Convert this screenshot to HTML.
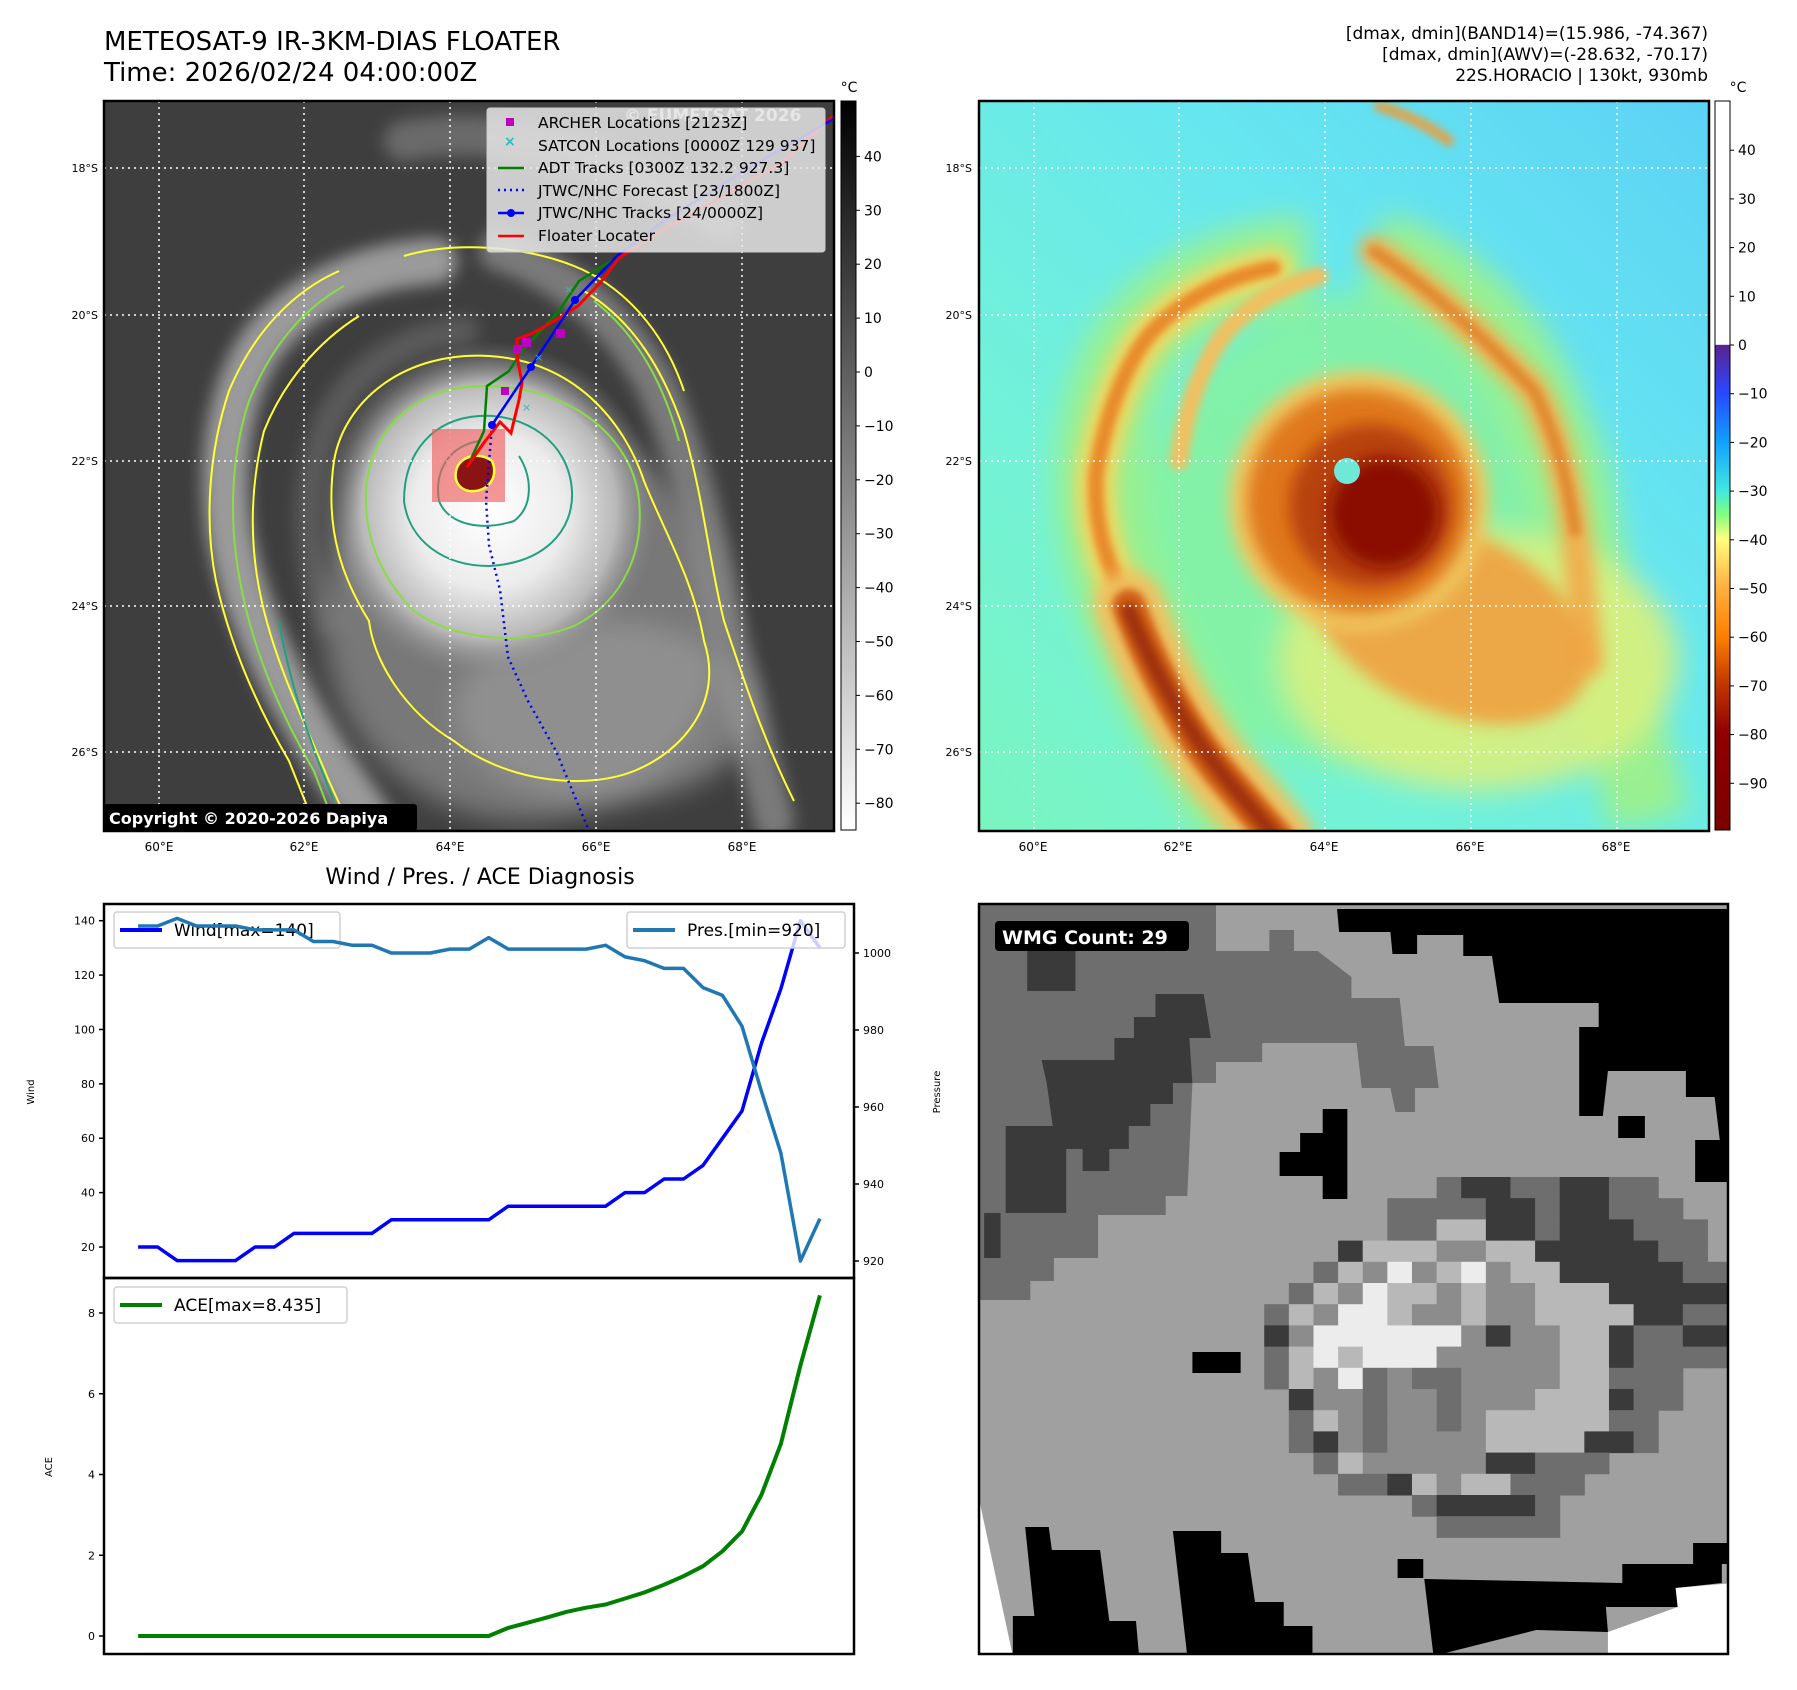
<!DOCTYPE html>
<html><head><meta charset="utf-8">
<style>
html,body{margin:0;padding:0;background:#fff;}
#root{position:relative;width:1797px;height:1690px;overflow:hidden;background:#fff;}
svg text{font-family:"DejaVu Sans","Liberation Sans",sans-serif;}
</style></head>
<body>
<div id="root">
<svg id="fig" width="1797" height="1690" viewBox="0 0 1797 1690" xmlns="http://www.w3.org/2000/svg">
<defs>
  <filter id="blur8" filterUnits="userSpaceOnUse" x="-300" y="-300" width="1400" height="1400"><feGaussianBlur stdDeviation="8"/></filter>
  <filter id="blur4" filterUnits="userSpaceOnUse" x="-300" y="-300" width="1400" height="1400"><feGaussianBlur stdDeviation="4"/></filter>
  <filter id="blur14" filterUnits="userSpaceOnUse" x="-300" y="-300" width="1400" height="1400"><feGaussianBlur stdDeviation="14"/></filter>
  <clipPath id="clipL"><rect x="0" y="0" width="730" height="730"/></clipPath>
  <clipPath id="clipR"><rect x="0" y="0" width="730" height="730"/></clipPath>
  <clipPath id="clipW"><rect x="0" y="0" width="749" height="750"/></clipPath>
  <radialGradient id="cdoL" cx="0.5" cy="0.5" r="0.5">
    <stop offset="0" stop-color="#ffffff"/><stop offset="0.45" stop-color="#ececec"/>
    <stop offset="0.75" stop-color="#b8b8b8"/><stop offset="1" stop-color="#808080" stop-opacity="0"/>
  </radialGradient>
  <linearGradient id="bgR" x1="1" y1="0" x2="0" y2="1">
    <stop offset="0" stop-color="#5cd2f5"/><stop offset="0.35" stop-color="#66e6f0"/>
    <stop offset="0.7" stop-color="#72f2d8"/><stop offset="1" stop-color="#7af5c0"/>
  </linearGradient>
  <linearGradient id="cbL" x1="0" y1="0" x2="0" y2="1">
    <stop offset="0" stop-color="#000"/><stop offset="1" stop-color="#fff"/>
  </linearGradient>
  <linearGradient id="cbR" x1="0" y1="0" x2="0" y2="1">
    <stop offset="0" stop-color="#fff"/><stop offset="0.334" stop-color="#fff"/>
    <stop offset="0.335" stop-color="#5a2390"/><stop offset="0.40" stop-color="#2848ff"/>
    <stop offset="0.467" stop-color="#10a0ff"/><stop offset="0.534" stop-color="#40e8e0"/>
    <stop offset="0.567" stop-color="#80ff80"/><stop offset="0.60" stop-color="#ffff80"/>
    <stop offset="0.667" stop-color="#ffb040"/><stop offset="0.734" stop-color="#ff8000"/>
    <stop offset="0.80" stop-color="#c03800"/><stop offset="0.867" stop-color="#900000"/>
    <stop offset="1" stop-color="#7a0000"/>
  </linearGradient>
</defs>

<!-- Titles -->
<text x="104" y="50" font-size="26">METEOSAT-9 IR-3KM-DIAS FLOATER</text>
<text x="104" y="81" font-size="26">Time: 2026/02/24 04:00:00Z</text>
<g font-size="17" text-anchor="end">
  <text x="1708" y="39">[dmax, dmin](BAND14)=(15.986, -74.367)</text>
  <text x="1708" y="60">[dmax, dmin](AWV)=(-28.632, -70.17)</text>
  <text x="1708" y="81">22S.HORACIO | 130kt, 930mb</text>
</g>

<!-- LEFT IR MAP -->
<g transform="translate(104,101)">
 <g clip-path="url(#clipL)">
  <rect width="730" height="730" fill="#3e3e3e"/>
  <g filter="url(#blur8)" fill="none" stroke-linecap="round">
    <path d="M330,160 C260,165 200,190 160,240 C125,290 115,360 125,430 C140,510 180,590 225,660 L280,740" stroke="#9a9a9a" stroke-width="46"/>
    <path d="M360,230 C300,235 250,270 225,320 C200,380 200,450 225,520" stroke="#5a5a5a" stroke-width="30"/>
    <path d="M395,150 C460,170 520,220 555,290 C585,360 600,420 615,500 C630,570 650,640 670,720" stroke="#7a7a7a" stroke-width="40"/>
    <path d="M300,40 C400,20 520,60 620,120" stroke="#6a6a6a" stroke-width="40"/>
  </g>
  <ellipse cx="420" cy="520" rx="200" ry="200" fill="#8c8c8c" opacity="0.75" filter="url(#blur14)"/>
  <ellipse cx="500" cy="610" rx="150" ry="90" fill="#9a9a9a" opacity="0.7" filter="url(#blur14)"/>
  <circle cx="385" cy="410" r="170" fill="url(#cdoL)"/>
  <!-- contours -->
  <g fill="none" stroke-width="2">
    <path d="M235,170 C190,190 150,230 125,290 C105,350 100,420 112,480 C125,540 150,600 185,660 L215,735" stroke="#ffff33"/>
    <path d="M255,215 C215,240 180,280 160,330 C145,390 145,450 160,510 C175,570 200,620 225,680 L250,735" stroke="#ffff33"/>
    <path d="M240,185 C195,210 165,250 145,300 C125,360 125,430 138,490 C150,550 175,610 210,670 L235,735" stroke="#88dd44"/>
    <path d="M175,520 C185,580 205,640 230,700" stroke="#20a080"/>
    <path d="M300,155 C350,140 420,145 470,165 C520,185 560,230 580,290" stroke="#ffff33"/>
    <path d="M480,190 C530,220 560,270 580,330 C600,400 605,460 620,520 C640,580 660,640 690,700" stroke="#ffff33"/>
    <path d="M490,200 C535,235 560,285 575,340" stroke="#88dd44"/>
    <path d="M385,255 C300,250 240,300 230,360 C220,430 240,480 265,520 C270,560 300,610 350,640 C400,680 480,690 530,670 C580,650 620,600 600,540 C590,480 560,430 540,380 C520,320 470,260 385,255 Z" stroke="#ffff33"/>
    <path d="M380,285 C310,285 265,330 262,390 C260,440 280,480 310,510 C350,540 420,545 470,525 C520,500 540,450 535,400 C530,340 470,285 380,285 Z" stroke="#88dd44"/>
    <path d="M375,315 C330,318 300,350 300,400 C305,440 340,465 385,465 C440,462 470,430 468,390 C465,340 420,312 375,315 Z" stroke="#20a080"/>
    <path d="M375,340 C345,345 330,370 335,400 C345,425 380,430 410,420 C430,405 428,375 415,355" stroke="#20a080"/>
  </g>
  <!-- grid -->
  <g stroke="#fff" stroke-width="1.5" stroke-dasharray="2,4">
    <line x1="55" y1="0" x2="55" y2="730"/><line x1="200" y1="0" x2="200" y2="730"/><line x1="346" y1="0" x2="346" y2="730"/><line x1="492" y1="0" x2="492" y2="730"/><line x1="638" y1="0" x2="638" y2="730"/>
    <line x1="0" y1="67" x2="730" y2="67"/><line x1="0" y1="214" x2="730" y2="214"/><line x1="0" y1="360" x2="730" y2="360"/><line x1="0" y1="505" x2="730" y2="505"/><line x1="0" y1="651" x2="730" y2="651"/>
  </g>
  <rect x="328" y="328" width="73" height="73" fill="#f06060" opacity="0.65"/>
  <path d="M352,370 C355,355 375,350 388,360 C395,375 385,392 365,390 C355,388 350,380 352,370 Z" fill="#8a1414" stroke="#ffff33" stroke-width="2.5"/>
  <!-- tracks -->
  <polyline points="388,324 382,400 385,444 396,489 404,556 424,600 452,650 485,730" fill="none" stroke="#0000ff" stroke-width="2.5" stroke-dasharray="2,4"/>
  <polyline points="366,360 380,330 383,285 405,270 418,250 455,210 475,180 515,155 560,130" fill="none" stroke="#008000" stroke-width="2.5"/>
  <polyline points="363,366 379,343 396,321 407,332 415,299 418,282 413,255 413,238 429,232 457,216 474,205 496,182 515,157 560,128 620,95 680,60 729,15" fill="none" stroke="#ff0000" stroke-width="3"/>
  <polyline points="388,324 427,266 471,199 513,155 560,120 640,70 729,18" fill="none" stroke="#0000ff" stroke-width="2.5"/>
  <g fill="#0000ff"><circle cx="388" cy="324" r="4"/><circle cx="427" cy="266" r="4"/><circle cx="471" cy="199" r="4"/></g>
  <g fill="#c000c0"><rect x="409" y="244" width="9" height="9"/><rect x="418" y="237" width="9" height="9"/><rect x="452" y="228" width="9" height="9"/><rect x="397" y="286" width="8" height="8"/></g>
  <g fill="#20c0c0" font-size="11"><text x="460" y="192">×</text><text x="418" y="310">×</text><text x="430" y="260">×</text></g>
  <text x="520" y="20" font-size="17" font-weight="bold" fill="#e0e0e0">© EUMETSAT 2026</text>
  <!-- legend -->
  <g>
    <rect x="383" y="7" width="338" height="144" rx="3" fill="#e6e6e6" fill-opacity="0.85" stroke="#cccccc"/>
    <rect x="402" y="17" width="8" height="8" fill="#c000c0"/>
    <text x="400" y="45" font-size="14" fill="#20c0c0" font-weight="bold">×</text>
    <line x1="394" y1="67" x2="420" y2="67" stroke="#008000" stroke-width="2.5"/>
    <line x1="394" y1="89" x2="420" y2="89" stroke="#0000ff" stroke-width="2.5" stroke-dasharray="2,4"/>
    <line x1="394" y1="112" x2="420" y2="112" stroke="#0000ff" stroke-width="2.5"/><circle cx="407" cy="112" r="4" fill="#0000ff"/>
    <line x1="394" y1="135" x2="420" y2="135" stroke="#ff0000" stroke-width="2.5"/>
    <g font-size="15.5" fill="#000">
      <text x="434" y="27">ARCHER Locations [2123Z]</text>
      <text x="434" y="50">SATCON Locations [0000Z 129 937]</text>
      <text x="434" y="72">ADT Tracks [0300Z 132.2 927.3]</text>
      <text x="434" y="95">JTWC/NHC Forecast [23/1800Z]</text>
      <text x="434" y="117">JTWC/NHC Tracks [24/0000Z]</text>
      <text x="434" y="140">Floater Locater</text>
    </g>
  </g>
  <rect x="0" y="703" width="313" height="27" rx="3" fill="#000"/>
  <text x="5" y="723" font-size="16" font-weight="bold" fill="#fff">Copyright © 2020-2026 Dapiya</text>
 </g>
 <rect width="730" height="730" fill="none" stroke="#000" stroke-width="2.5"/>
</g>

<!-- left colorbar -->
<g>
  <rect x="841" y="101" width="15" height="729" fill="url(#cbL)" stroke="#000" stroke-width="1"/>
  <text x="849" y="92" font-size="14" text-anchor="middle">°C</text>
  <g font-size="14" id="cbLticks"></g>
</g>

<!-- RIGHT AWV MAP -->
<g transform="translate(979,101)">
 <g clip-path="url(#clipR)">
  <rect width="730" height="730" fill="url(#bgR)"/>
  <g filter="url(#blur14)">
    <circle cx="400" cy="430" r="240" fill="#88f29a" opacity="0.8"/>
    <path d="M330,160 C260,165 200,190 160,240 C125,290 115,360 125,430 C140,510 180,590 225,660 L280,740" fill="none" stroke="#9af090" stroke-width="90"/>
    <path d="M395,150 C460,170 520,220 555,290 C585,360 600,420 615,500 C630,570 650,640 670,720" fill="none" stroke="#9af090" stroke-width="80"/>
    <ellipse cx="500" cy="560" rx="200" ry="130" fill="#d8f080" opacity="0.9"/>
  </g>
  <g fill="none" stroke-linecap="round">
    <path d="M294,167 C250,175 200,200 170,234 C145,265 125,320 117,374 C115,420 125,460 150,505" stroke="#f0d860" stroke-width="40" filter="url(#blur8)"/>
    <path d="M294,167 C250,175 200,200 170,234 C145,265 125,320 117,374 C115,420 125,460 150,505" stroke="#e88a2a" stroke-width="16" filter="url(#blur4)"/>
    <path d="M150,505 C170,560 200,620 240,670 L300,740" stroke="#f0c060" stroke-width="70" filter="url(#blur8)"/>
    <path d="M150,505 C170,560 200,620 240,670 L300,740" stroke="#d06018" stroke-width="34" filter="url(#blur4)"/>
    <path d="M150,510 C175,570 205,625 245,675 L300,740" stroke="#a03008" stroke-width="16" filter="url(#blur4)"/>
    <path d="M340,175 C300,185 260,210 240,240 C215,280 205,320 200,360" stroke="#f0c060" stroke-width="18" filter="url(#blur4)"/>
    <path d="M395,150 C454,189 513,245 555,290 C580,340 590,390 596,430 C600,470 605,520 610,560" stroke="#f0b050" stroke-width="30" filter="url(#blur8)"/>
    <path d="M395,150 C454,189 513,245 555,290 C580,340 590,390 596,430" stroke="#e08a30" stroke-width="12" filter="url(#blur4)"/>
    <path d="M400,5 C430,15 450,25 470,40" stroke="#e8a040" stroke-width="10" filter="url(#blur4)"/>
  </g>
  <ellipse cx="470" cy="520" rx="150" ry="90" transform="rotate(25 470 520)" fill="#f0a040" opacity="0.9" filter="url(#blur8)"/>
  <circle cx="380" cy="400" r="130" fill="#f0c860" filter="url(#blur8)"/>
  <circle cx="380" cy="400" r="112" fill="#e0781e" filter="url(#blur8)"/>
  <circle cx="392" cy="405" r="82" fill="#b8420c" filter="url(#blur8)"/>
  <circle cx="405" cy="412" r="55" fill="#8a0a00" filter="url(#blur8)"/>
  <circle cx="368" cy="370" r="13" fill="#70e8d8"/>
  <g stroke="#fff" stroke-width="1.5" stroke-dasharray="2,4">
    <line x1="55" y1="0" x2="55" y2="730"/><line x1="200" y1="0" x2="200" y2="730"/><line x1="346" y1="0" x2="346" y2="730"/><line x1="492" y1="0" x2="492" y2="730"/><line x1="638" y1="0" x2="638" y2="730"/>
    <line x1="0" y1="67" x2="730" y2="67"/><line x1="0" y1="214" x2="730" y2="214"/><line x1="0" y1="360" x2="730" y2="360"/><line x1="0" y1="505" x2="730" y2="505"/><line x1="0" y1="651" x2="730" y2="651"/>
  </g>
 </g>
 <rect width="730" height="730" fill="none" stroke="#000" stroke-width="2.5"/>
</g>

<!-- right colorbar -->
<g>
  <rect x="1715" y="101" width="15" height="729" fill="url(#cbR)" stroke="#000" stroke-width="1"/>
  <text x="1738" y="92" font-size="14" text-anchor="middle">°C</text>
  <g font-size="14" id="cbRticks"></g>
</g>

<!-- map lat/lon labels -->
<g font-size="11" text-anchor="end" id="latlabels"></g>
<g font-size="12" text-anchor="middle" id="lonlabels"></g>

<!-- WMG PANEL -->
<g transform="translate(979,904)">
 <g clip-path="url(#clipW)">
  <g transform="scale(1.026,1)">
  <rect width="730" height="752" fill="#a0a0a0"/>
  <polygon fill="#6e6e6e" points="0,0 231,0 231,47 283,47 283,26 307,26 307,47 330,47 363,73 363,94 410,94 415,142 443,142 448,184 425,184 425,208 406,208 401,184 373,184 368,139 276,139 276,158 231,158 231,179 208,179 203,292 182,292 182,311 116,311 116,354 73,354 73,377 50,377 50,396 0,396"/>
  <g fill="#3a3a3a">
    <rect x="47" y="47" width="47" height="40"/>
    <polygon points="61,156 132,156 132,134 151,134 151,113 172,113 172,90 219,90 226,134 205,134 208,179 189,179 189,200 167,200 167,222 146,222 146,245 127,245 127,267 101,267 101,245 75,245 66,179"/>
    <rect x="26" y="222" width="59" height="87"/>
    <rect x="5" y="309" width="16" height="45"/>
  </g>
  <polygon fill="#000" points="349,5 736,5 736,278 698,278 698,236 722,236 717,193 689,193 689,167 613,167 608,212 585,212 585,123 604,123 604,99 507,99 500,52 472,52 472,31 427,31 427,50 403,50 401,28 351,28"/>
  <g fill="#000">
    <rect x="335" y="205" width="24" height="90"/><rect x="293" y="248" width="50" height="24"/><rect x="313" y="229" width="30" height="19"/>
    <rect x="208" y="448" width="47" height="21"/><rect x="623" y="212" width="26" height="22"/><rect x="408" y="655" width="25" height="19"/>
    <polygon points="45,623 68,623 71,646 118,646 127,717 153,717 156,752 33,752 33,712 54,712"/>
    <polygon points="189,627 236,627 236,649 262,649 269,698 297,698 297,722 325,722 325,752 203,752"/>
    <polygon points="434,675 627,679 627,660 696,660 696,639 736,639 736,660 724,660 724,679 679,684 681,703 611,703 613,728 543,726 443,752"/>
  </g>
  <polygon fill="#fff" points="0,595 33,752 0,752"/>
  <polygon fill="#fff" points="613,728 681,703 679,684 736,679 736,752 613,752"/>
  <g id="wmgcells"></g>
  </g>
  <rect x="16" y="17" width="194" height="30" rx="4" fill="#000"/>
  <text x="23" y="40" font-size="19" font-weight="bold" fill="#fff">WMG Count: 29</text>
 </g>
 <rect width="749" height="750" fill="none" stroke="#000" stroke-width="2.5"/>
</g>

<!-- DIAGNOSIS CHARTS -->
<text x="480" y="884" font-size="22" text-anchor="middle">Wind / Pres. / ACE Diagnosis</text>
<g id="charts"></g>
</svg>
</div>

<script>
// ---------- chart data ----------
const windValues = [20,20,15,15,15,15,20,20,25,25,25,25,25,30,30,30,30,30,30,35,35,35,35,35,35,40,40,45,45,50,60,70,95,115,140,130];
const presValues = [1007,1007,1009,1007,1007,1007,1006,1006,1006,1003,1003,1002,1002,1000,1000,1000,1001,1001,1004,1001,1001,1001,1001,1001,1002,999,998,996,996,991,989,981,964,948,920,931];
const aceValues  = [0,0,0,0,0,0,0,0,0,0,0,0,0,0,0,0,0,0,0,0.2,0.33,0.46,0.6,0.7,0.78,0.93,1.08,1.27,1.48,1.73,2.1,2.59,3.5,4.76,6.7,8.435];
const windTicks = [20,40,60,80,100,120,140];
const presTicks = [920,940,960,980,1000];
const aceTicks  = [0,2,4,6,8];
const irCbTicks = [40,30,20,10,0,-10,-20,-30,-40,-50,-60,-70,-80];
const awvCbTicks = [40,30,20,10,0,-10,-20,-30,-40,-50,-60,-70,-80,-90];
const latTicks = ["18°S","20°S","22°S","24°S","26°S"];
const lonTicks = ["60°E","62°E","64°E","66°E","68°E"];

const NS = "http://www.w3.org/2000/svg";
function mk(tag, attrs, parent){ const e=document.createElementNS(NS,tag); for(const k in attrs) e.setAttribute(k,attrs[k]); parent.appendChild(e); return e; }

// axis functions
const X0=104, X1=854;
const n = windValues.length;
const xs = i => X0 + (i + 0.05*(n-1)) * (X1-X0)/((n-1)*1.1);
const yWind = v => 1247 - (v-20)*(1247-920.7)/120;
const yPres = v => 1261 - (v-920)*(1261-953)/80;
const yAce  = v => 1636 - v*(1636-1313)/8;

const charts = document.getElementById('charts');

const f1 = mk('rect',{x:X0,y:904,width:X1-X0,height:374,fill:'none',stroke:'#000','stroke-width':2.5},charts);


const f2 = mk('rect',{x:X0,y:1278,width:X1-X0,height:376,fill:'none',stroke:'#000','stroke-width':2.5},charts);



windTicks.forEach(t=>{ const y=yWind(t);
  mk('line',{x1:X0-5,y1:y,x2:X0,y2:y,stroke:'#000','stroke-width':1.5},charts);
  const tx=mk('text',{x:X0-9,y:y+4,'font-size':11,'text-anchor':'end'},charts); tx.textContent=t;
  
  
});
presTicks.forEach(t=>{ const y=yPres(t);
  mk('line',{x1:X1,y1:y,x2:X1+5,y2:y,stroke:'#000','stroke-width':1.5},charts);
  const tx=mk('text',{x:X1+9,y:y+4,'font-size':11},charts); tx.textContent=t;
  
  
});
aceTicks.forEach(t=>{ const y=yAce(t);
  mk('line',{x1:X0-5,y1:y,x2:X0,y2:y,stroke:'#000','stroke-width':1.5},charts);
  const tx=mk('text',{x:X0-9,y:y+4,'font-size':11,'text-anchor':'end'},charts); tx.textContent=t;
  
  
});
function vlabel(txt,x,y,name){ const t=mk('text',{x:x,y:y,'font-size':10,'text-anchor':'middle',transform:`rotate(-90 ${x} ${y})`},charts); t.textContent=txt;
  
   }
vlabel('Wind',34,1092,'wind-axis-title');
vlabel('Pressure',940,1092,'pressure-axis-title');
vlabel('ACE',52,1467,'ace-axis-title');

function line(vals, yf, color, w, name){
  const pts = vals.map((v,i)=>xs(i).toFixed(1)+','+yf(v).toFixed(1)).join(' ');
  const p = mk('polyline',{points:pts,fill:'none',stroke:color,'stroke-width':w,'stroke-linejoin':'round'},charts);
  
  
}
line(windValues, yWind, '#0000ff', 3.5, 'wind-line');

function legend(x,y,w,label,color,name){
  const g=mk('g',{},charts);
  
  
  mk('rect',{x:x,y:y,width:w,height:36,rx:3,fill:'#fff','fill-opacity':0.8,stroke:'#d0d0d0','stroke-width':1.5},g);
  mk('line',{x1:x+6,y1:y+18,x2:x+48,y2:y+18,stroke:color,'stroke-width':4},g);
  const t=mk('text',{x:x+60,y:y+24,'font-size':17},g); t.textContent=label;
}
legend(114,912,226,'Wind[max=140]','#0000ff','wind-legend');
line(presValues, yPres, '#1f77b4', 3.5, 'pressure-line');
legend(627,912,218,'Pres.[min=920]','#1f77b4','pressure-legend');
line(aceValues, yAce, '#008000', 4, 'ace-line');
legend(114,1287,233,'ACE[max=8.435]','#008000','ace-legend');

const cbL=document.getElementById('cbLticks');
irCbTicks.forEach(t=>{ const y=372-t*5.39;
  mk('line',{x1:856,y1:y,x2:860,y2:y,stroke:'#000'},cbL);
  const tx=mk('text',{x:864,y:y+5},cbL); tx.textContent=(t<0?'\u2212'+(-t):t);
  
  
});
const cbR=document.getElementById('cbRticks');
awvCbTicks.forEach(t=>{ const y=345-t*4.87;
  mk('line',{x1:1730,y1:y,x2:1734,y2:y,stroke:'#000'},cbR);
  const tx=mk('text',{x:1738,y:y+5},cbR); tx.textContent=(t<0?'\u2212'+(-t):t);
  
  
});

const latG=document.getElementById('latlabels'), lonG=document.getElementById('lonlabels');
const latY=[168,315,461,606,752], lonX=[159,304,450,596,742];
latTicks.forEach((s,i)=>{ [98,972].forEach(x=>{
  const t=mk('text',{x:x,y:latY[i]+4},latG); t.textContent=s;
  
   }); });
lonTicks.forEach((s,i)=>{ [0,874].forEach(dx=>{
  const t=mk('text',{x:lonX[i]+dx,y:851},lonG); t.textContent=s;
  
   }); });

const wmgRows = [
".......mddmmddmm...",
".....mmmmddmddmmm..",
".....mmllddmdddmmm.",
"...dlllnnlldddddmm.",
"..mlnwnlwnlldddddmm",
".mlnwllnlnnlllddddd",
"mlnwwlnnlnnllllddmm",
"dnwwwwwwndnnlldmmdd",
"mlwlwwwnnnnnlldmmmm",
"mlnwmnmmnnnnllmmm..",
".dnnmnnmnnnllldmm..",
".mlnmnnmnlllllmm...",
".mdnmnnnnllllddm...",
"..mlnnnnnddmmm.....",
"...mmdlnllmmm......",
"......mddddm.......",
".......mmmmm......."];
const shade={d:'#3a3a3a',m:'#6e6e6e',n:'#8c8c8c',l:'#b8b8b8',w:'#ececec'};
const wg=document.getElementById('wmgcells');
wmgRows.forEach((row,r)=>{ [...row].forEach((ch,c)=>{ if(shade[ch]){
  const cell=mk('rect',{x:(278+24*c).toFixed(1),y:(273+21.2*r).toFixed(1),width:24.5,height:21.7,fill:shade[ch]},wg);
  
  
}});});
</script>
</body></html>
